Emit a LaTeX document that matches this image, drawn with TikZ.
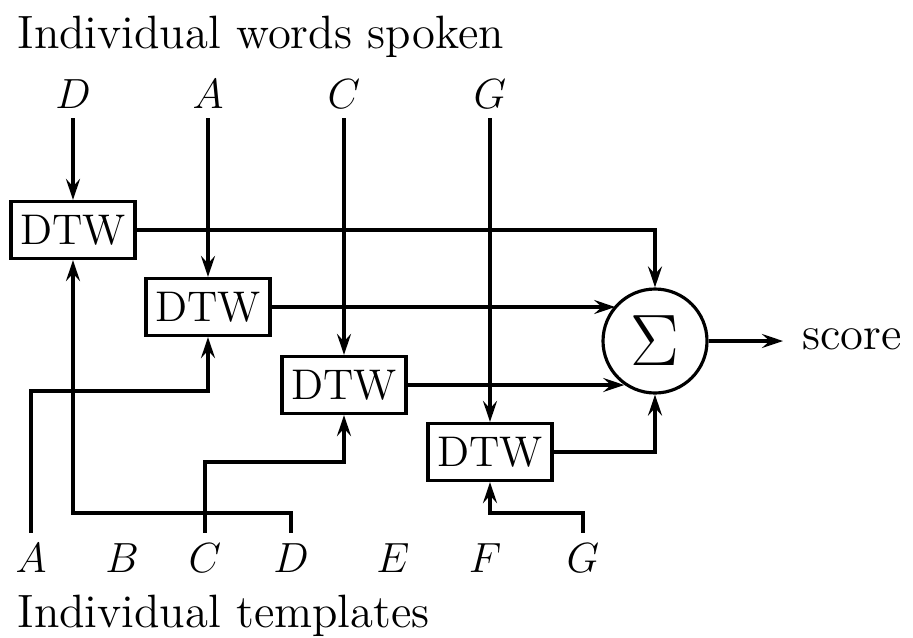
\documentclass[tikz,border=0pt]{standalone}
\usepackage{amsmath,amssymb}
\usepackage{tikz}
\usetikzlibrary{arrows.meta,positioning}

\begin{document}
\begin{tikzpicture}[>={Stealth[length=6pt,width=4pt,inset=2.2pt]},
  line width=0.9pt,
  font=\fontsize{13.3}{15}\selectfont,
  block/.style={draw,minimum width=1.24cm,minimum height=0.57cm,inner sep=0pt,font=\fontsize{12.2}{14}\selectfont},
  letter/.style={anchor=base,inner sep=2.5pt,font=\fontsize{12}{14}\selectfont},
  adder/.style={circle,draw,minimum size=1.04cm,inner sep=0pt,font=\fontsize{22}{24}\selectfont}]
\useasboundingbox (0,0) rectangle (9.13,6.37);
\node[anchor=base west,inner sep=0pt] (top) at (0.16,5.89) {Individual words spoken};
\node[anchor=base west,inner sep=0pt] (bot) at (0.16,0.10) {Individual templates};
% spoken words
\node[letter] (wD) at (0.73,5.29) {$D$};
\node[letter] (wA) at (2.08,5.29) {$A$};
\node[letter] (wC) at (3.44,5.29) {$C$};
\node[letter] (wG) at (4.90,5.29) {$G$};
% matchers
\node[block] (dtw1) at (0.73,4.07) {DTW};
\node[block] (dtw2) at (2.08,3.30) {DTW};
\node[block] (dtw3) at (3.44,2.52) {DTW};
\node[block] (dtw4) at (4.90,1.85) {DTW};
\node[adder] (sum) at (6.55,2.96) {$\Sigma$};
\node[anchor=base west,inner xsep=5pt,inner ysep=0pt] (score) at (7.83,2.88) {score};
% templates
\node[letter] (tA) at (0.31,0.65) {$A$};
\node[letter] (tB) at (1.22,0.65) {$B$};
\node[letter] (tC) at (2.05,0.65) {$C$};
\node[letter] (tD) at (2.91,0.65) {$D$};
\node[letter] (tE) at (3.93,0.65) {$E$};
\node[letter] (tF) at (4.85,0.65) {$F$};
\node[letter] (tG) at (5.83,0.65) {$G$};
\draw[->] (wD.south) -- (dtw1.north);
\draw[->] (wA.south) -- (dtw2.north);
\draw[->] (wC.south) -- (dtw3.north);
\draw[->] (wG.south) -- (dtw4.north);
\draw[->] (tA.north) -- (tA.north |- 0,2.46) -| (dtw2.south);
\draw[->] (tD.north) -- (tD.north |- 0,1.24) -| (dtw1.south);
\draw[->] (tC.north) -- (tC.north |- 0,1.75) -| (dtw3.south);
\draw[->] (tG.north) -- (tG.north |- 0,1.24) -| (dtw4.south);
\draw[->] (dtw1.east) -| (sum.north);
\draw[->] (dtw2.east) -- (dtw2.east -| sum.138);
\draw[->] (dtw3.east) -- (dtw3.east -| sum.235);
\draw[->] (dtw4.east) -| (sum.south);
\draw[->] (sum.east) -- (sum.east -| score.west);
\end{tikzpicture}
\end{document}
